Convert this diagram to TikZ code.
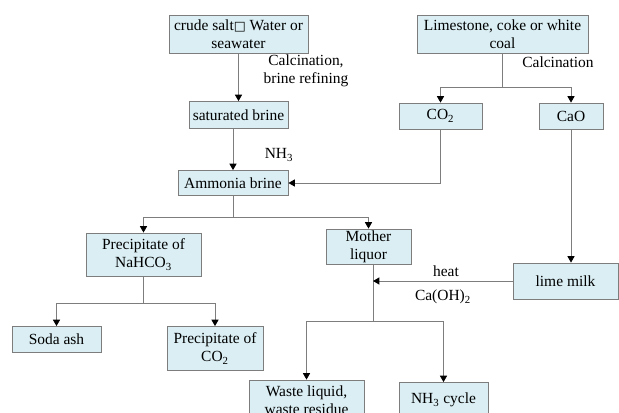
\documentclass[tikz,border=0pt]{standalone}
\usepackage{fontspec}
\setmainfont{Liberation Serif}
\newfontfamily\boxfont{DejaVu Sans}
\usetikzlibrary{arrows.meta}
\definecolor{boxfill}{RGB}{218,238,243}
\definecolor{boxline}{RGB}{125,125,125}
\tikzstyle{cbox}=[draw=boxline, fill=boxfill, line width=0.6pt, inner sep=0pt, align=center, font=\fontsize{11}{12.8}\selectfont]
\tikzstyle{clab}=[inner sep=0pt, align=center, font=\fontsize{11}{12.8}\selectfont]
\tikzstyle{carr}=[draw=boxline, line width=0.6pt, -{Triangle[width=5pt,length=4.5pt,black]}]
\tikzstyle{cline}=[draw=boxline, line width=0.6pt]

\begin{document}
\begin{tikzpicture}[x=0.025cm, y=-0.025cm]
\clip (0,0) rectangle (619,413);

\node[cbox, minimum width=3.475cm, minimum height=0.95cm] (salt) at (238.5,34.5) {crude salt{\boxfont\fontsize{9}{12}\selectfont □} Water or\\seawater};
\node[cbox, minimum width=2.475cm, minimum height=0.675cm] (sat) at (238.5,115) {saturated brine};
\node[cbox, minimum width=2.75cm, minimum height=0.625cm] (amm) at (233,183) {Ammonia brine};
\node[cbox, minimum width=4.275cm, minimum height=0.95cm] (lime) at (502.5,34) {Limestone, coke or white\\coal};
\node[cbox, minimum width=2.075cm, minimum height=0.65cm] (co2) at (440.5,116) {CO\textsubscript{2}};
\node[cbox, minimum width=1.6cm, minimum height=0.65cm] (cao) at (571,116) {CaO};
\node[cbox, minimum width=2.875cm, minimum height=1.075cm] (nahco) at (143.5,254.5) {Precipitate of\\NaHCO\textsubscript{3}};
\node[cbox, minimum width=2.125cm, minimum height=0.875cm] (mother) at (368.5,246.5) {Mother\\liquor};
\node[cbox, minimum width=2.625cm, minimum height=0.9cm] (milk) at (565.5,281) {lime milk};
\node[cbox, minimum width=2.225cm, minimum height=0.65cm] (soda) at (56.5,339.5) {Soda ash};
\node[cbox, minimum width=2.4cm, minimum height=1.1cm] (pco2) at (215,348.5) {Precipitate of\\CO\textsubscript{2}};
\node[cbox, minimum width=2.875cm, minimum height=1cm] (waste) at (306.5,400) {Waste liquid,\\waste residue};
\node[cbox, minimum width=2.225cm, minimum height=0.875cm] (nhcyc) at (443.5,400) {NH\textsubscript{3} cycle};

\node[clab] (calc1) at (306,71) {Calcination,\\brine refining};
\node[clab] (calc2) at (558,62) {Calcination};
\node[clab] (nh3) at (279,155) {NH\textsubscript{3}};
\node[clab] (heat) at (446,271) {heat};
\node[clab] (caoh) at (443,297) {Ca(OH)\textsubscript{2}};

\coordinate (lsplit) at (502.5,87);
\coordinate (asplit) at (233,217);
\coordinate (nsplit) at (143.5,303);
\coordinate (msplit) at (373,321);

\draw[carr] (salt) -- (sat);
\draw[carr] (amm.north |- sat.south) -- (amm);
\draw[cline] (lime) -- (lsplit);
\draw[carr] (lsplit) -| (co2);
\draw[carr] (lsplit) -| (cao);
\draw[carr] (co2) |- (amm);
\draw[cline] (amm) -- (asplit);
\draw[carr] (asplit) -| (nahco);
\draw[carr] (asplit) -| (mother);
\draw[carr] (cao) -- (cao |- milk.north);
\draw[cline] (mother.south -| msplit) -- (msplit);
\draw[carr] (milk) -- (milk -| msplit);
\draw[carr] (msplit) -| (waste);
\draw[carr] (msplit) -| (nhcyc);
\draw[cline] (nahco) -- (nsplit);
\draw[carr] (nsplit) -| (soda);
\draw[carr] (nsplit) -| (pco2);

\end{tikzpicture}
\end{document}
